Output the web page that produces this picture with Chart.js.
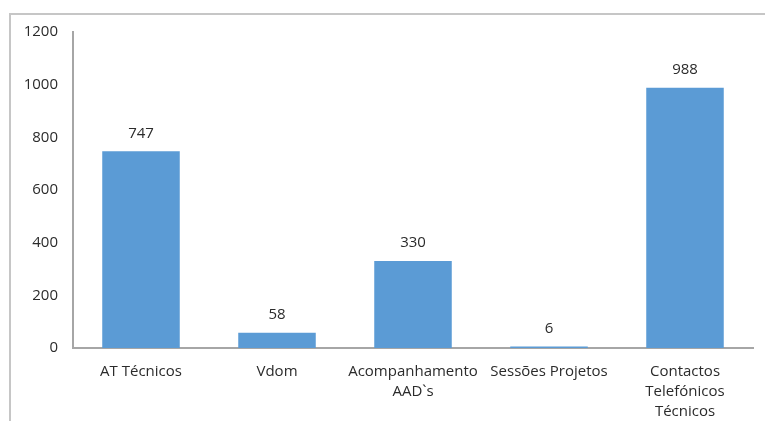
<!DOCTYPE html>
<html>
<head>
<meta charset="utf-8">
<script src="https://cdn.jsdelivr.net/npm/chart.js@4"></script>
<style>
  html, body { margin: 0; padding: 0; background: #fff; }
  #wrap { position: relative; width: 765px; height: 421px; overflow: hidden; }
  #frame { position: absolute; left: 9px; top: 13px; width: 800px; height: 450px;
           border: 2px solid #c6c6c6; box-sizing: border-box; }
  canvas { position: absolute; left: 0; top: 0; }
</style>
</head>
<body>
<div id="wrap">
  <div id="frame"></div>
  <canvas id="barChart" width="765" height="421"></canvas>
</div>
<script>
// categories and totals
const categories = [
  ["AT Técnicos"],
  ["Vdom"],
  ["Acompanhamento", "AAD`s"],
  ["Sessões Projetos"],
  ["Contactos", "Telefónicos", "Técnicos"]
];
const values = [747, 58, 330, 6, 988];
const yTicks = [0, 200, 400, 600, 800, 1000, 1200];

const FONT = "'Open Sans', sans-serif";
const TEXT = "#2b2b2b";

// value labels over each bar
const barLabels = {
  id: "barLabels",
  afterDatasetsDraw(chart) {
    const ctx = chart.ctx;
    const meta = chart.getDatasetMeta(0);
    ctx.save();
    ctx.font = "15px " + FONT;
    ctx.fillStyle = TEXT;
    ctx.textAlign = "center";
    ctx.textBaseline = "middle";
    meta.data.forEach((bar, i) => {
      ctx.fillText(String(values[i]), bar.x, bar.y - 18);
    });
    ctx.restore();
  }
};

new Chart(document.getElementById("barChart"), {
  type: "bar",
  data: {
    labels: categories,
    datasets: [{
      data: values,
      backgroundColor: "#5b9bd5",
      categoryPercentage: 1,
      barPercentage: 0.57
    }]
  },
  options: {
    responsive: false,
    animation: false,
    layout: { padding: { top: 32, right: 12, left: 0, bottom: 0 } },
    plugins: { legend: { display: false }, tooltip: { enabled: false } },
    scales: {
      x: {
        grid: { display: false, drawTicks: false },
        border: { display: true, color: "#a6a6a6", width: 2 },
        ticks: {
          color: TEXT,
          font: { family: FONT, size: 15, lineHeight: 1.33 },
          padding: 14, maxRotation: 0, autoSkip: false
        },
        afterFit(s) { s.height = 73; }
      },
      y: {
        min: 0,
        max: 1200,
        afterBuildTicks(s) { s.ticks = yTicks.map(v => ({ value: v })); },
        grid: { display: false, drawTicks: false },
        border: { display: true, color: "#a6a6a6", width: 2 },
        ticks: {
          color: TEXT,
          font: { family: FONT, size: 15 },
          padding: 15,
          callback: v => String(v)
        },
        afterFit(s) { s.width = 73; }
      }
    }
  },
  plugins: [barLabels]
});
</script>
</body>
</html>
